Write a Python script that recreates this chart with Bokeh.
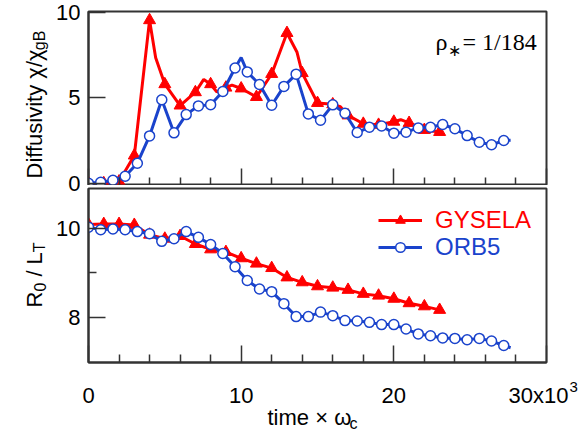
from math import pi
from bokeh.plotting import figure
from bokeh.layouts import column, row
from bokeh.models import (FixedTicker, Label, Legend, LegendItem, Range1d,
                          CustomLabelingPolicy)
from bokeh.embed import file_html
from bokeh.resources import INLINE

# ---------------- data (time in units of 10^3 / omega_c) ----------------
orb5_t = [0.0, 0.8, 1.6, 2.4, 3.2, 4.0, 4.8, 5.6, 6.4, 7.2, 8.0, 8.8, 9.6, 10.4,
          11.2, 12.0, 12.8, 13.6, 14.4, 15.2, 16.0, 16.8, 17.6, 18.4, 19.2, 20.0,
          20.8, 21.6, 22.4, 23.2, 24.0, 24.8, 25.6, 26.4, 27.2]
orb5_chi = [0.0, 0.05, 0.17, 0.41, 1.17, 2.77, 4.89, 2.95, 4.02, 4.53, 4.60, 5.37,
            6.75, 6.52, 5.78, 4.57, 5.67, 6.39, 4.06, 3.69, 4.59, 4.10, 2.97, 3.28,
            3.35, 2.93, 2.99, 3.24, 3.28, 3.44, 3.19, 2.79, 2.40, 2.25, 2.50]
orb5_chi_extra_t = [10.0, 27.65]
orb5_chi_extra = [7.36, 2.52]
orb5_rlt = [10.02, 9.96, 9.98, 9.96, 9.92, 9.87, 9.70, 9.76, 9.92, 9.79, 9.63, 9.43,
            9.13, 8.82, 8.63, 8.57, 8.30, 8.01, 8.01, 8.11, 8.03, 7.92, 7.91, 7.88,
            7.83, 7.83, 7.73, 7.62, 7.58, 7.53, 7.52, 7.49, 7.52, 7.46, 7.36]
orb5_rlt_extra_t = [27.65]
orb5_rlt_extra = [7.31]

gysela_t = [0, 1, 2, 3, 4, 5, 6, 7, 8, 9, 10, 11, 12, 13, 14, 15, 16, 17, 18, 19,
            20, 21, 22, 23]
gysela_chi = [0.0, 0.0, 0.1, 1.62, 9.55, 5.80, 4.55, 5.33, 5.80, 5.60, 5.55, 5.05,
              6.40, 8.80, 6.45, 4.70, 4.62, 3.97, 3.48, 3.42, 3.60, 3.53, 3.12, 3.00]
gysela_chi_extra_t = [4.4, 7.55, 8.4, 9.4, 13.66, 16.5, 20.45]
gysela_chi_extra = [7.35, 6.08, 5.35, 5.75, 7.67, 4.48, 3.72]
gysela_rlt = [10.08, 10.09, 10.09, 10.07, 9.85, 9.76, 9.82, 9.64, 9.52, 9.46, 9.32,
              9.20, 9.10, 8.89, 8.78, 8.69, 8.66, 8.61, 8.52, 8.48, 8.41, 8.31, 8.24,
              8.16]

x_ticks = [0, 10, 20, 30]
x_tick_labels = ["0", "10", "20", "30x10"]
x_minor = [2, 4, 6, 8, 12, 14, 16, 18, 22, 24, 26, 28]
top_ticks = [0, 5, 10]
bot_ticks = [8, 10]
bot_minor = [9]


def merged(t, v, et, ev):
    pts = sorted(zip(list(t) + list(et), list(v) + list(ev)))
    return [a for a, _ in pts], [b for _, b in pts]


RED = "#FF0000"
BLUE = "#1A43CC"
AX = "#333333"
SANS = "Liberation Sans"
SERIF = "Liberation Serif"

X0, X1 = 0.0, 30.0
TOP_Y = (-0.135, 10.06)
BOT_Y = (6.978, 10.888)
FW, FH = 458, 174

# page geometry (pixels) of the two frames, used to place text annotations
LW = 80                      # width of left text column
FL, FR = 88, 546
T_T, T_B = 11, 185           # top frame
B_T, B_B = 188, 362          # bottom frame
TOP_H = T_B                  # top canvas height
BOT_H = (B_T - T_B) + FH + 2  # bottom canvas height
XL_TOP = TOP_H + BOT_H
XL_H = 431 - XL_TOP


def page_x(v):
    return FL + (v - X0) * (FR - FL) / (X1 - X0)


def X(px):
    return X0 + (px - FL) * (X1 - X0) / (FR - FL)


def page_y_top(v):
    return T_T + (TOP_Y[1] - v) * (T_B - T_T) / (TOP_Y[1] - TOP_Y[0])


def page_y_bot(v):
    return B_T + (BOT_Y[1] - v) * (B_B - B_T) / (BOT_Y[1] - BOT_Y[0])


def YT(py):
    return TOP_Y[1] - (py - T_T) * (TOP_Y[1] - TOP_Y[0]) / (T_B - T_T)


AR = {' ': .278, '/': .278, '0': .556, '1': .556, '3': .556, '4': .556, '8': .556,
      '=': .584, '×': .584, 'D': .722, 'R': .722, 'L': .556, 'T': .611, 'B': .667,
      'i': .222, 'f': .278, 'u': .556, 's': .5, 'v': .5, 't': .278, 'y': .5,
      'm': .833, 'e': .556, 'g': .556, 'c': .5, 'x': .5, 'χ': .5, 'ω': .70}


def tw(s, size):
    return sum(AR.get(ch, .55) for ch in s) * size


def no_labels():
    return CustomLabelingPolicy(code="return []")


def make_fig(yr, bt, bb):
    p = figure(frame_width=FW, frame_height=FH, x_range=Range1d(X0, X1),
               y_range=Range1d(*yr), output_backend="svg", toolbar_location=None,
               min_border_left=FL - LW, min_border_right=581 - FR, min_border_top=bt,
               min_border_bottom=bb)
    p.grid.visible = False
    p.outline_line_color = AX
    p.outline_line_width = 2
    p.background_fill_color = "white"
    p.border_fill_color = "white"
    for ax in (p.xaxis[0], p.yaxis[0]):
        ax.axis_line_color = AX
        ax.axis_line_width = 2
        ax.major_tick_line_color = AX
        ax.major_tick_line_width = 1.5
        ax.minor_tick_line_color = AX
        ax.minor_tick_line_width = 1.5
        ax.major_tick_in = 17
        ax.major_tick_out = 0
        ax.minor_tick_in = 8
        ax.minor_tick_out = 0
        # tick labels are written in the text strips around the panels
        ax.major_label_text_font_size = "0px"
        ax.major_label_standoff = 0
        ax.major_label_policy = no_labels()
    p.xaxis.ticker = FixedTicker(ticks=x_ticks, minor_ticks=x_minor)
    return p


def text_fig(w, h):
    p = figure(width=w, height=h, x_range=Range1d(0, w), y_range=Range1d(h, 0),
               x_axis_type=None, y_axis_type=None, output_backend="svg",
               toolbar_location=None, min_border=0)
    p.outline_line_color = None
    p.grid.visible = False
    p.background_fill_color = "white"
    p.border_fill_color = "white"
    return p


def txt(p, x, y, text, size, font=SANS, color="black", align="left",
        baseline="alphabetic", angle=0):
    p.add_layout(Label(x=x, y=y, text=text, text_font=font, text_font_size=f"{size}px",
                       text_color=color, angle=angle, text_align=align,
                       text_baseline=baseline))


def place_v(p, xb, y0, pieces):
    y = y0
    for text, size, dx in pieces:
        lead = len(text) - len(text.lstrip(' '))
        txt(p, xb + dx, y - tw(' ' * lead, size), text.strip(), size, angle=pi / 2)
        y -= tw(text, size)


def place_h(p, x0, y0, pieces):
    x = x0
    for text, size, dy in pieces:
        lead = len(text) - len(text.lstrip(' '))
        txt(p, x + tw(' ' * lead, size), y0 + dy, text.strip(), size)
        x += tw(text, size)


# ---------------- top panel: diffusivity ----------------
pt = make_fig(TOP_Y, T_T, 0)
pt.yaxis.ticker = FixedTicker(ticks=top_ticks, minor_ticks=[])

gx, gy = merged(gysela_t, gysela_chi, gysela_chi_extra_t, gysela_chi_extra)
ox, oy = merged(orb5_t, orb5_chi, orb5_chi_extra_t, orb5_chi_extra)
pt.line(gx, gy, line_color=RED, line_width=3)
pt.scatter(gysela_t, gysela_chi, marker="triangle", size=12, color=RED)
pt.line(ox, oy, line_color=BLUE, line_width=3)
pt.scatter(orb5_t, orb5_chi, marker="circle", size=10, fill_color="white",
           line_color=BLUE, line_width=1.5)

for t_, px, py, sz in (("ρ", 435, 41, 24), ("∗", 447, 50, 16), ("= 1/184", 462, 41, 24)):
    txt(pt, X(px), YT(py), t_, sz, font=SERIF)

# ---------------- bottom panel: R0/LT ----------------
pb = make_fig(BOT_Y, B_T - T_B, 2)
pb.yaxis.ticker = FixedTicker(ticks=bot_ticks, minor_ticks=bot_minor)

gr_line = pb.line(gysela_t, gysela_rlt, line_color=RED, line_width=3)
gr_mark = pb.scatter(gysela_t, gysela_rlt, marker="triangle", size=12, color=RED)
ox2, oy2 = merged(orb5_t, orb5_rlt, orb5_rlt_extra_t, orb5_rlt_extra)
or_line = pb.line(ox2, oy2, line_color=BLUE, line_width=3)
or_mark = pb.scatter(orb5_t, orb5_rlt, marker="circle", size=10, fill_color="white",
                     line_color=BLUE, line_width=1.5)

for name, rends, col, ybot in (("GYSELA", [gr_line, gr_mark], RED, 128),
                               ("ORB5", [or_line, or_mark], BLUE, 101)):
    leg = Legend(items=[LegendItem(label=name, renderers=rends)], location=(290, ybot),
                 padding=0, margin=0, spacing=0, glyph_width=44, glyph_height=24,
                 label_height=24, label_standoff=13, label_text_font=SANS,
                 label_text_font_size="24px", label_text_color=col,
                 border_line_alpha=0, background_fill_alpha=0)
    pb.add_layout(leg)

# ---------------- left text column: y labels and y tick labels ----------------
left = text_fig(LW, TOP_H + BOT_H)
for v in top_ticks:
    txt(left, LW, page_y_top(v), str(v), 22, align="right", baseline="middle")
for v in bot_ticks:
    txt(left, LW, page_y_bot(v), str(v), 22, align="right", baseline="middle")
place_v(left, 34, 178, [("Diffusivity χ/χ", 22, 0), ("gB", 16, 5)])
place_v(left, 34, 307, [("R", 22, 0), ("0", 16, 5), (" / L", 22, 0), ("T", 16, 5)])

# ---------------- bottom text strip: x tick labels and x label ----------------
xl = text_fig(581, XL_H)
TICK_BASE = 395 - XL_TOP
for v, s in zip(x_ticks, x_tick_labels):
    if v == x_ticks[-1]:
        x_start = page_x(v) - 38
        txt(xl, x_start, TICK_BASE, s, 22)
        txt(xl, x_start + tw(s, 22) + 1, TICK_BASE - 9, "3", 15)
    else:
        txt(xl, page_x(v), TICK_BASE, s, 22, align="center")
place_h(xl, 267, 417 - XL_TOP, [("time × ω", 22, 0), ("c", 16, 6)])

layout = column(row(left, column(pt, pb, spacing=0), spacing=0), xl, spacing=0)
open("out.html", "w").write(file_html(layout, INLINE))
